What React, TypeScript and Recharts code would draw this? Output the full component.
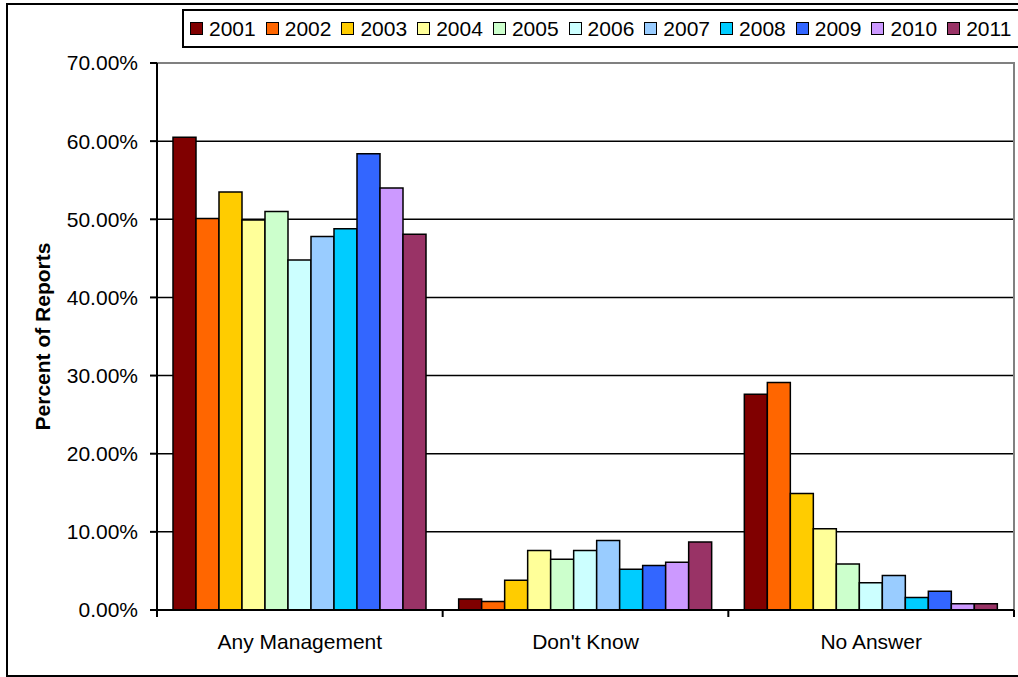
import React from 'react'
import { BarChart, Bar, XAxis, YAxis, CartesianGrid, Legend, ReferenceArea, Label } from 'recharts'

const FONT = '"Liberation Sans", Arial, Helvetica, sans-serif'

// survey answers per category, one value per year (percent of reports)
const categories = ['Any Management', "Don't Know", 'No Answer']
const years = ['2001', '2002', '2003', '2004', '2005', '2006', '2007', '2008', '2009', '2010', '2011']
const yearColors = [
  '#800000', '#FF6600', '#FFCC00', '#FFFF99', '#CCFFCC', '#CCFFFF',
  '#99CCFF', '#00CCFF', '#3366FF', '#CC99FF', '#993366',
]
const anyManagement = [60.5, 50.1, 53.5, 49.9, 51.0, 44.8, 47.8, 48.8, 58.4, 54.0, 48.1]
const dontKnow = [1.4, 1.1, 3.8, 7.6, 6.5, 7.6, 8.9, 5.2, 5.7, 6.1, 8.7]
const noAnswer = [27.6, 29.1, 14.9, 10.4, 5.9, 3.5, 4.4, 1.6, 2.4, 0.8, 0.8]
const yTicks = [0, 10, 20, 30, 40, 50, 60, 70]

const seriesByCategory = [anyManagement, dontKnow, noAnswer]

// one row per category, one key per year
const rows = categories.map((category, ci) => {
  const row: Record<string, string | number> = { category }
  years.forEach((year, yi) => {
    row[year] = seriesByCategory[ci][yi]
  })
  return row
})

const YearLegend = () => (
  <div
    style={{
      boxSizing: 'border-box',
      height: 39,
      border: '2px solid #000',
      background: '#fff',
      display: 'flex',
      alignItems: 'center',
      paddingLeft: 6,
      whiteSpace: 'nowrap',
      fontFamily: FONT,
    }}
  >
    {years.map((year, i) => (
      <span key={year} style={{ display: 'inline-flex', alignItems: 'center', marginRight: 10 }}>
        <span
          style={{
            display: 'inline-block',
            boxSizing: 'border-box',
            width: 13,
            height: 13,
            border: '1.5px solid #000',
            background: yearColors[i],
            marginRight: 6,
          }}
        />
        <span style={{ fontSize: 21, lineHeight: 1, color: '#000' }}>{year}</span>
      </span>
    ))}
  </div>
)

// category label centred in its band, tick marks on the band edges
const CategoryTick = (props: any) => {
  const { x, y, payload, index, visibleTicksCount } = props
  const half = payload.offset ?? 0
  return (
    <g>
      <line x1={x - half} y1={y} x2={x - half} y2={y + 7} stroke="#000" strokeWidth={2} />
      {index === visibleTicksCount - 1 && (
        <line x1={x + half} y1={y} x2={x + half} y2={y + 7} stroke="#000" strokeWidth={2} />
      )}
      <text x={x} y={y + 39} textAnchor="middle" fontSize={21} fill="#000" fontFamily={FONT}>
        {payload.value}
      </text>
    </g>
  )
}

const YTitle = (props: any) => {
  const { x, y, height } = props.viewBox
  const cx = x + 42
  const cy = y + height / 2
  return (
    <text
      x={cx}
      y={cy}
      transform={`rotate(-90 ${cx} ${cy})`}
      textAnchor="middle"
      dominantBaseline="central"
      fontSize={21}
      fontWeight="bold"
      fill="#000"
      fontFamily={FONT}
    >
      Percent of Reports
    </text>
  )
}

export default function App() {
  return (
    <div
      style={{
        position: 'absolute',
        left: 0,
        top: 0,
        width: 1018,
        height: 677,
        overflow: 'hidden',
        background: '#fff',
        fontFamily: FONT,
      }}
    >
      <div
        style={{
          position: 'absolute',
          left: 6,
          top: 3,
          width: 1040,
          height: 674,
          boxSizing: 'border-box',
          border: '2px solid #000',
        }}
      />
      <BarChart
        width={1018}
        height={677}
        data={rows}
        margin={{ top: 63, right: 4, bottom: 27, left: 0 }}
        barCategoryGap={16}
        barGap={0}
      >
        <CartesianGrid vertical={false} stroke="#000" strokeWidth={1.5} />
        <ReferenceArea y1={0} y2={70} fill="none" stroke="#808080" strokeWidth={2} />
        {years.map((year, i) => (
          <Bar
            key={year}
            dataKey={year}
            name={year}
            fill={yearColors[i]}
            stroke="#000"
            strokeWidth={1.5}
            isAnimationActive={false}
          />
        ))}
        <XAxis
          dataKey="category"
          height={40}
          tickLine={false}
          tickSize={0}
          tickMargin={0}
          axisLine={{ stroke: '#000', strokeWidth: 2 }}
          tick={<CategoryTick />}
          interval={0}
        />
        <YAxis
          width={157}
          domain={[0, 70]}
          ticks={yTicks}
          interval={0}
          tickSize={7}
          tickMargin={12}
          tickFormatter={(v: number) => `${v.toFixed(2)}%`}
          tick={{ fill: '#000', fontSize: 21, fontFamily: FONT }}
          tickLine={{ stroke: '#000', strokeWidth: 2 }}
          axisLine={{ stroke: '#000', strokeWidth: 2 }}
        >
          <Label content={<YTitle />} />
        </YAxis>
        <Legend
          layout="vertical"
          align="center"
          verticalAlign="middle"
          content={<YearLegend />}
          wrapperStyle={{ top: 9, left: 182, width: 860, height: 39 }}
        />
      </BarChart>
    </div>
  )
}
